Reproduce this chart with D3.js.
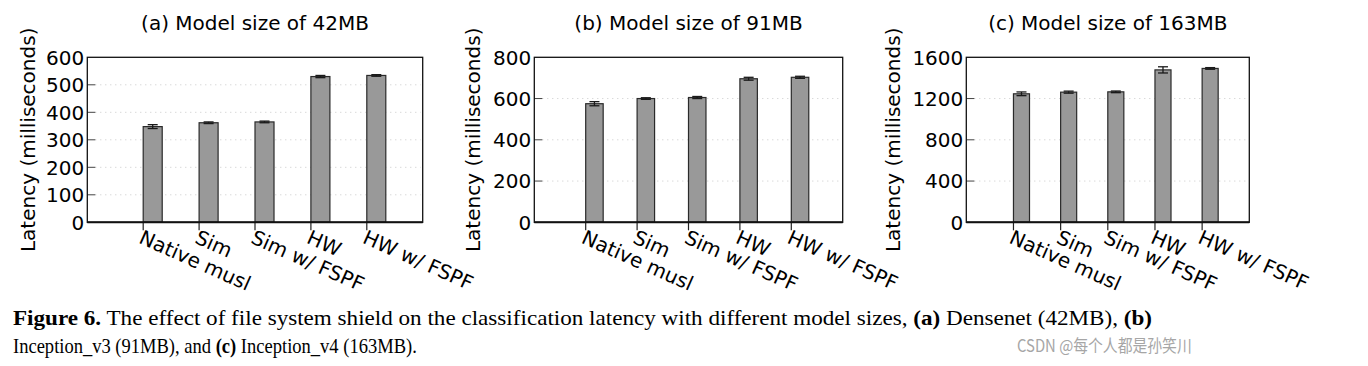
<!DOCTYPE html>
<html>
<head>
<meta charset="utf-8">
<script src="https://cdn.jsdelivr.net/npm/d3@7"></script>
<style>
	body { margin: 0; background: #fff; }
	svg { display: block; }
</style>
</head>
<body>
<div id="viz"></div>
<script>
var width = 1368,
	height = 366;

var categories = ['Native musl', 'Sim', 'Sim w/ FSPF', 'HW', 'HW w/ FSPF'];

var titles = ['(a) Model size of 42MB', '(b) Model size of 91MB', '(c) Model size of 163MB'];

// latency means (ms) and error half-widths per panel
var latencyA = [348, 362, 365, 530, 534];
var errorA = [7, 3, 3, 4, 3];
var latencyB = [575, 600, 605, 696, 703];
var errorB = [10, 4, 5, 7, 5];
var latencyC = [1246, 1262, 1265, 1478, 1492];
var errorC = [18, 10, 8, 30, 8];

var yMax = [600, 800, 1600];
var yTicks = [
	[0, 100, 200, 300, 400, 500, 600],
	[0, 200, 400, 600, 800],
	[0, 400, 800, 1200, 1600]
];

var panels = [
	{ left: 87.3, right: 422.7, ylab: 28, values: latencyA, errors: errorA },
	{ left: 534.3, right: 842.7, ylab: 473, values: latencyB, errors: errorB },
	{ left: 966.3, right: 1249.3, ylab: 893, values: latencyC, errors: errorC }
];

var plotTop = 57.3, plotBottom = 222.3;
var font = 'DejaVu Sans, sans-serif';

var svg = d3.select('#viz').append('svg')
	.attr('width', width)
	.attr('height', height);

panels.forEach(function(p, k) {
	var g = svg.append('g');

	var x = d3.scaleLinear().domain([0, 6]).range([p.left, p.right]);
	var y = d3.scaleLinear().domain([0, yMax[k]]).range([plotBottom, plotTop]);
	var bw = x(0.34) - x(0);

	// grid
	g.selectAll('.grid')
		.data(yTicks[k].slice(1, -1))
		.enter().append('line')
		.attr('x1', p.left + 8).attr('x2', p.right - 2)
		.attr('y1', function(d) { return y(d); })
		.attr('y2', function(d) { return y(d); })
		.attr('stroke', '#c8c8c8')
		.attr('stroke-width', 1)
		.attr('stroke-dasharray', '1,4');

	// inner ticks on left
	g.selectAll('.ytick')
		.data(yTicks[k].slice(1, -1))
		.enter().append('line')
		.attr('x1', p.left).attr('x2', p.left + 8)
		.attr('y1', function(d) { return y(d); })
		.attr('y2', function(d) { return y(d); })
		.attr('stroke', '#444')
		.attr('stroke-width', 1);

	// y tick labels
	g.selectAll('.ylabel')
		.data(yTicks[k])
		.enter().append('text')
		.attr('x', p.left - 3)
		.attr('y', function(d) { return y(d); })
		.attr('dy', '0.36em')
		.attr('text-anchor', 'end')
		.attr('font-family', font)
		.attr('font-size', 20)
		.attr('fill', '#000')
		.text(function(d) { return d; });

	// bars
	g.selectAll('.bar')
		.data(p.values)
		.enter().append('rect')
		.attr('x', function(d, i) { return x(i + 1); })
		.attr('y', function(d) { return y(d); })
		.attr('width', bw)
		.attr('height', function(d) { return plotBottom - y(d); })
		.attr('fill', '#999999')
		.attr('stroke', '#2a2a2a')
		.attr('stroke-width', 1.2);

	// error bars
	var eb = g.selectAll('.err')
		.data(p.values)
		.enter().append('g')
		.attr('stroke', '#1a1a1a')
		.attr('stroke-width', 1.3);
	eb.append('line')
		.attr('x1', function(d, i) { return x(i + 1) + bw / 2; })
		.attr('x2', function(d, i) { return x(i + 1) + bw / 2; })
		.attr('y1', function(d, i) { return y(d + p.errors[i]); })
		.attr('y2', function(d, i) { return y(d - p.errors[i]); });
	[1, -1].forEach(function(s) {
		eb.append('line')
			.attr('x1', function(d, i) { return x(i + 1) + bw / 2 - 5; })
			.attr('x2', function(d, i) { return x(i + 1) + bw / 2 + 5; })
			.attr('y1', function(d, i) { return y(d + s * p.errors[i]); })
			.attr('y2', function(d, i) { return y(d + s * p.errors[i]); });
	});

	// x ticks (at bar left edge, below axis)
	g.selectAll('.xtick')
		.data(categories)
		.enter().append('line')
		.attr('x1', function(d, i) { return x(i + 1); })
		.attr('x2', function(d, i) { return x(i + 1); })
		.attr('y1', plotBottom)
		.attr('y2', plotBottom + 8)
		.attr('stroke', '#222')
		.attr('stroke-width', 1.2);

	// category labels
	g.selectAll('.xlabel')
		.data(categories)
		.enter().append('text')
		.attr('transform', function(d, i) {
			return 'translate(' + (x(i + 1) + 1) + ',' + (plotBottom + 6) + ') rotate(24)';
		})
		.attr('dy', '0.78em')
		.attr('text-anchor', 'start')
		.attr('font-family', font)
		.attr('font-size', 20)
		.attr('fill', '#000')
		.text(function(d) { return d; });

	// frame
	g.append('rect')
		.attr('x', p.left).attr('y', plotTop)
		.attr('width', p.right - p.left)
		.attr('height', plotBottom - plotTop)
		.attr('fill', 'none')
		.attr('stroke', '#111')
		.attr('stroke-width', 1.3);
	g.append('line')
		.attr('x1', p.left).attr('x2', p.right)
		.attr('y1', plotBottom).attr('y2', plotBottom)
		.attr('stroke', '#111')
		.attr('stroke-width', 2);

	// title
	g.append('text')
		.attr('x', (p.left + p.right) / 2)
		.attr('y', 30)
		.attr('text-anchor', 'middle')
		.attr('font-family', font)
		.attr('font-size', 20)
		.attr('fill', '#000')
		.text(titles[k]);

	// y axis label
	g.append('text')
		.attr('transform', 'translate(' + p.ylab + ',' + ((plotTop + plotBottom) / 2) + ') rotate(-90)')
		.attr('dy', '0.36em')
		.attr('text-anchor', 'middle')
		.attr('font-family', font)
		.attr('font-size', 20)
		.attr('fill', '#000')
		.text('Latency (milliseconds)');
});

// caption
var cap1 = [
	['Figure 6.', true],
	[' The effect of file system shield on the classification latency with different model sizes, ', false],
	['(a)', true], [' Densenet (42MB), ', false], ['(b)', true]
];
var cap2 = [
	['Inception_v3 (91MB), and ', false], ['(c)', true], [' Inception_v4 (163MB).', false]
];

function squeezed(parts, xPos, yPos, targetW, family, size, color) {
	var t = svg.append('text')
		.attr('font-family', family)
		.attr('font-size', size)
		.attr('fill', color);
	parts.forEach(function(p) {
		t.append('tspan')
			.attr('font-weight', p[1] ? 'bold' : 'normal')
			.text(p[0]);
	});
	var w = t.node().getComputedTextLength();
	t.attr('transform', 'translate(' + xPos + ',' + yPos + ') scale(' + (targetW / w) + ',1)');
}
squeezed(cap1, 13, 325, 1140, 'Liberation Serif, serif', 22, '#000');
squeezed(cap2, 13, 353, 404, 'Liberation Serif, serif', 22, '#000');

squeezed([['CSDN @每个人都是孙笑川', false]], 1017, 352, 175,
	'Noto Sans CJK SC, sans-serif', 17, '#a6a6a6');
</script>
</body>
</html>
